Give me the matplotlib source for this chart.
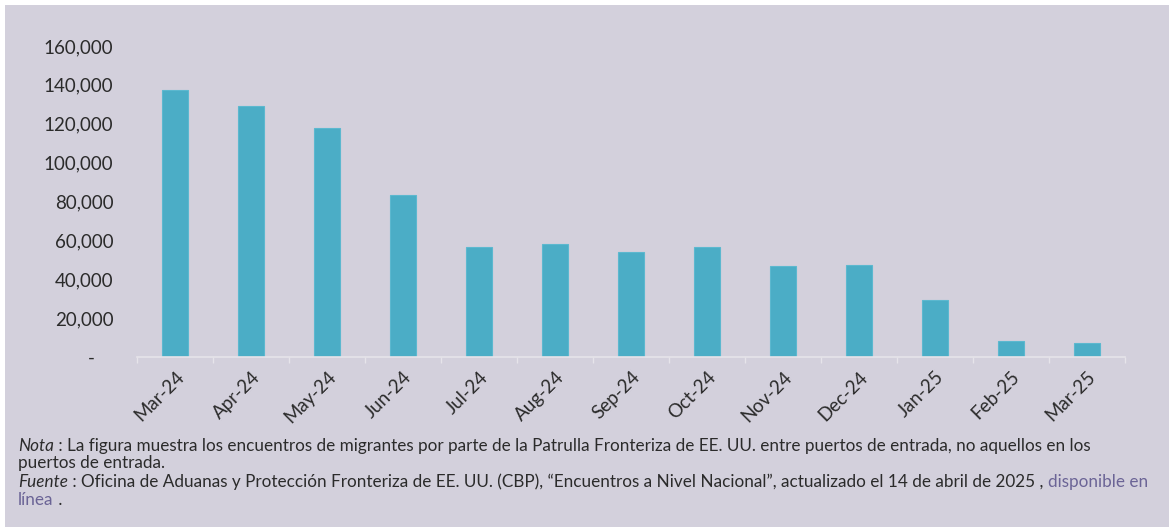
import matplotlib.pyplot as plt
from matplotlib.patches import Rectangle
from matplotlib.ticker import FuncFormatter

months = ["Mar-24", "Apr-24", "May-24", "Jun-24", "Jul-24", "Aug-24", "Sep-24",
          "Oct-24", "Nov-24", "Dec-24", "Jan-25", "Feb-25", "Mar-25"]
encounters = [137473, 128900, 117901, 83536, 56408, 58038, 53988,
              56530, 46612, 47326, 29116, 8347, 7181]
y_ticks = [0, 20000, 40000, 60000, 80000, 100000, 120000, 140000, 160000]

bg = "#d3d0dc"
bar_color = "#4badc6"
text_color = "#2b2b2b"
link_color = "#6b6496"

plt.rcParams["font.family"] = ["Lato", "DejaVu Sans"]

W, H = 1169, 527
fig = plt.figure(figsize=(W / 100, H / 100), dpi=100)
fig.patch.set_facecolor("white")
fig.patches.append(Rectangle((5 / W, 0), 1, 1 - 5 / H, transform=fig.transFigure,
                             facecolor=bg, edgecolor="none", zorder=-10))

ax = fig.add_axes([137 / W, 1 - 357 / H, (1125 - 137) / W, (357 - 46) / H])
ax.set_facecolor("none")

x = list(range(len(months)))
ax.bar(x, encounters, width=0.33, color=bar_color, edgecolor="#5cb8cf", linewidth=0.8)

ax.set_xlim(-0.5, len(months) - 0.5)
ax.set_ylim(0, 160000)
ax.set_yticks(y_ticks)
# accounting style: zero shown as a dash, set a bit to the left
ax.yaxis.set_major_formatter(FuncFormatter(
    lambda v, p: "-\u00a0\u00a0\u00a0\u00a0" if v == 0 else f"{int(v):,}"))
ax.tick_params(axis="y", length=0, pad=17, labelsize=13.5, labelcolor=text_color)

ax.set_xticks(x)
ax.set_xticklabels(months, rotation=45, ha="right", rotation_mode="anchor")
ax.tick_params(axis="x", length=0, pad=8, labelsize=13.5, labelcolor=text_color)
ax.set_xticks([i - 0.5 for i in range(len(months) + 1)], minor=True)
ax.tick_params(axis="x", which="minor", length=4, color="#e6e4ea", width=1)

for s in ["top", "right", "left"]:
    ax.spines[s].set_visible(False)
ax.spines["bottom"].set_color("#e6e4ea")
ax.spines["bottom"].set_linewidth(1.2)

fs = 12.3
y1 = 1 - 446 / H
y2 = 1 - 463 / H
y3 = 1 - 482 / H
y4 = 1 - 500 / H
x0 = 18 / W
t = fig.text(x0, y1, "Nota", style="italic", fontsize=fs, color=text_color, va="center")
fig.canvas.draw()
bb = t.get_window_extent()
fig.text(bb.x1 / W, y1, " : La figura muestra los encuentros de migrantes por parte de la "
         "Patrulla Fronteriza de EE. UU. entre puertos de entrada, no aquellos en los",
         fontsize=fs, color=text_color, va="center")
fig.text(x0, y2, "puertos de entrada.", fontsize=fs, color=text_color, va="center")
t2 = fig.text(x0, y3, "Fuente", style="italic", fontsize=fs, color=text_color, va="center")
fig.canvas.draw()
bb2 = t2.get_window_extent()
t3 = fig.text(bb2.x1 / W, y3, " : Oficina de Aduanas y Protección Fronteriza de EE. UU. (CBP), "
              "\u201cEncuentros a Nivel Nacional\u201d, actualizado el 14 de abril de 2025 , ",
              fontsize=fs, color=text_color, va="center")
fig.canvas.draw()
bb3 = t3.get_window_extent()
fig.text(bb3.x1 / W, y3, "disponible en", fontsize=fs, color=link_color, va="center")
t4 = fig.text(x0, y4, "línea", fontsize=fs, color=link_color, va="center")
fig.canvas.draw()
bb4 = t4.get_window_extent()
fig.text(bb4.x1 / W, y4, " .", fontsize=fs, color=text_color, va="center")

fig.savefig("out.png", dpi=100, facecolor=fig.get_facecolor())
